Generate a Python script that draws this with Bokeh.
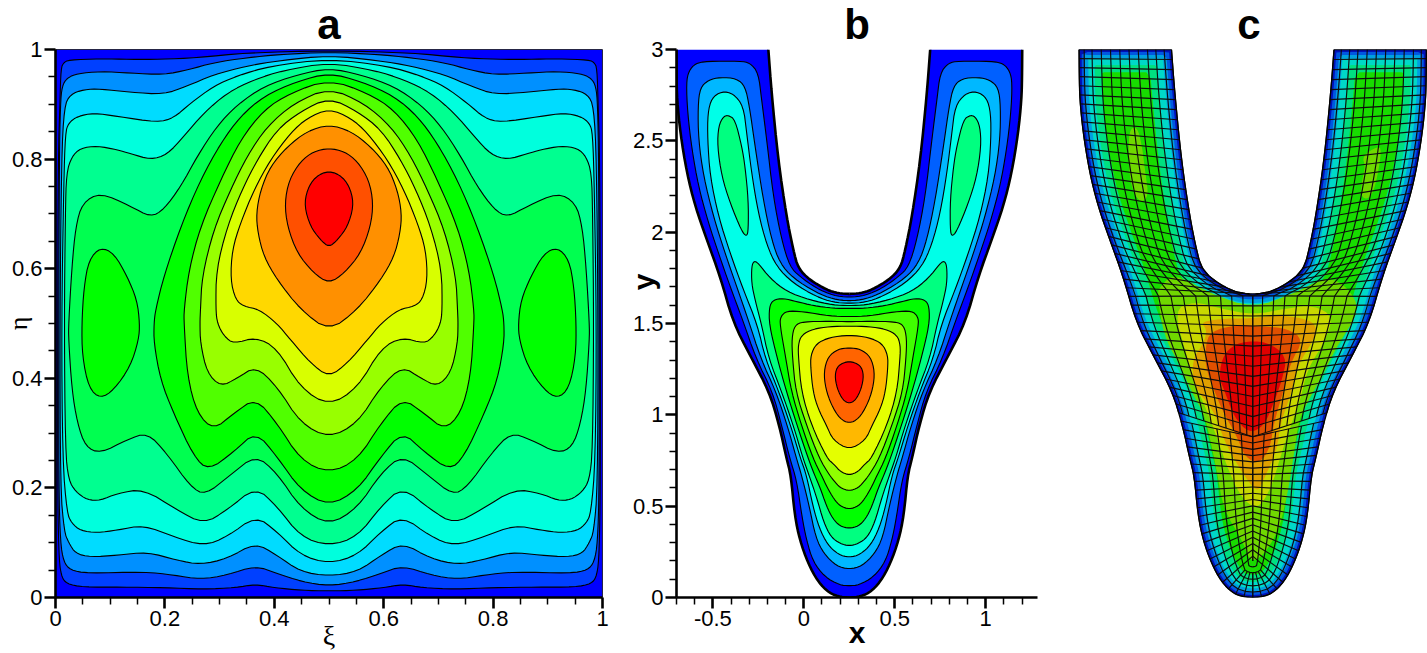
import numpy as np
from bokeh.plotting import figure
from bokeh.layouts import row
from bokeh.models import FixedTicker, NumeralTickFormatter, LinearAxis, Title
from bokeh.embed import file_html
from bokeh.resources import INLINE

# ---------- panel a: left halves (xi, eta) of the contour lines; the field is mirror-symmetric about xi = 0.5
a_colors = ["#0000ff", "#0040ff", "#0090ff", "#00dcff", "#00ffdd", "#00ff90", "#00ff50", "#00ff00",
            "#50ff00", "#98ff00", "#d8ff00", "#ffd800", "#ff9000", "#ff5000", "#ff0000"]
a_L1 = [(.5,.012),(.45,.013),(.40,.018),(.365,.024),(.33,.018),(.27,.015),(.2,.018),(.12,.019),(.05,.019),(.02,.025),(.01,.04),(.006,.08),(.004,.2),(.004,.5),(.005,.8),(.008,.9),(.01,.966),(.015,.976),(.024,.981),(.082,.983),(.137,.982),(.192,.982),(.259,.985),(.35,.994),(.5,.998)]
a_L2 = [(.5,.021),(.45,.029),(.405,.044),(.365,.058),(.314,.041),(.265,.033),(.216,.041),(.162,.047),(.058,.044),(.027,.05),(.015,.065),(.009,.1),(.006,.2),(.006,.5),(.007,.8),(.009,.9),(.012,.933),(.021,.948),(.04,.956),(.082,.960),(.137,.957),(.198,.954),(.243,.963),(.289,.976),(.35,.985),(.411,.991),(.5,.995)]
a_L3 = [(.5,.039),(.448,.047),(.405,.077),(.365,.1),(.314,.071),(.265,.06),(.222,.068),(.168,.083),(.113,.077),(.064,.074),(.037,.08),(.024,.1),(.016,.12),(.009,.2),(.008,.5),(.011,.8),(.016,.896),(.027,.918),(.052,.927),(.082,.928),(.137,.922),(.198,.918),(.24,.933),(.289,.954),(.35,.97),(.411,.98),(.5,.989)]
a_L4 = [(.5,.062),(.448,.077),(.405,.12),(.366,.149),(.314,.111),(.271,.094),(.216,.111),(.161,.132),(.113,.123),(.076,.118),(.046,.122),(.03,.135),(.021,.154),(.013,.25),(.011,.5),(.015,.75),(.018,.848),(.024,.866),(.04,.878),(.07,.884),(.113,.878),(.186,.867),(.216,.875),(.247,.902),(.289,.933),(.332,.952),(.393,.97),(.5,.983)]
a_L5 = [(.5,.094),(.448,.111),(.405,.166),(.366,.202),(.314,.16),(.271,.134),(.222,.16),(.161,.198),(.113,.19),(.082,.177),(.058,.178),(.037,.193),(.024,.214),(.018,.269),(.016,.5),(.018,.7),(.02,.775),(.03,.805),(.046,.82),(.076,.824),(.113,.817),(.137,.81),(.174,.799),(.204,.808),(.235,.842),(.271,.884),(.314,.921),(.363,.945),(.417,.962),(.5,.976)]
a_L6 = [(.5,.132),(.448,.163),(.405,.227),(.366,.26),(.32,.224),(.274,.187),(.247,.202),(.204,.262),(.168,.301),(.131,.288),(.082,.263),(.055,.275),(.04,.318),(.03,.379),(.024,.47),(.024,.5),(.03,.604),(.037,.677),(.049,.72),(.082,.739),(.137,.714),(.174,.694),(.198,.708),(.229,.75),(.259,.805),(.295,.86),(.332,.899),(.381,.933),(.442,.954),(.5,.966)]
a_L7 = [(.5,.167),(.448,.196),(.405,.257),(.366,.303),(.326,.266),(.28,.232),(.253,.257),(.216,.336),(.192,.397),(.18,.464),(.18,.5),(.183,.525),(.198,.586),(.229,.677),(.265,.762),(.302,.829),(.338,.878),(.381,.915),(.442,.942),(.5,.957)]
a_L8 = [(.5,.227),(.448,.251),(.405,.318),(.366,.364),(.326,.336),(.289,.306),(.259,.336),(.241,.403),(.235,.5),(.235,.525),(.244,.598),(.265,.677),(.302,.762),(.338,.835),(.381,.89),(.43,.921),(.5,.945)]
a_L9 = [(.5,.291),(.448,.318),(.405,.385),(.366,.422),(.332,.4),(.302,.385),(.277,.41),(.265,.464),(.264,.5),(.265,.525),(.268,.586),(.289,.671),(.32,.744),(.35,.805),(.387,.86),(.436,.902),(.5,.93)]
a_L10 = [(.5,.35),(.448,.382),(.405,.455),(.366,.475),(.326,.463),(.308,.477),(.296,.5),(.293,.525),(.294,.598),(.314,.677),(.341,.744),(.369,.799),(.405,.854),(.448,.887),(.5,.912)]
a_L11 = [(.5,.402),(.466,.428),(.43,.47),(.405,.5),(.372,.526),(.344,.531),(.329,.544),(.32,.58),(.323,.634),(.338,.683),(.363,.744),(.393,.799),(.43,.848),(.46,.875),(.5,.892)]
a_L12 = [(.5,.486),(.448,.525),(.405,.58),(.381,.622),(.37,.665),(.367,.701),(.375,.744),(.393,.787),(.424,.823),(.46,.851),(.5,.863)]
a_L13 = [(.5,.573),(.472,.592),(.442,.628),(.424,.677),(.419,.72),(.427,.762),(.448,.796),(.472,.814),(.5,.82)]
a_L14 = [(.5,.639),(.484,.653),(.466,.677),(.455,.714),(.46,.744),(.475,.768),(.5,.779)]
a_side = [(.082,.639),(.107,.628),(.131,.586),(.149,.543),(.154,.5),(.152,.47),(.137,.422),(.107,.379),(.082,.363),(.061,.382),(.049,.44),(.048,.5),(.052,.566),(.061,.616)]
a_levels = [a_L1, a_L2, a_L3, a_L4, a_L5, a_L6, a_L7, a_L8, a_L9, a_L10, a_L11, a_L12, a_L13, a_L14]
a_ticks = [0, 0.2, 0.4, 0.6, 0.8, 1]
a_minor = [0.05, 0.1, 0.15, 0.25, 0.3, 0.35, 0.45, 0.5, 0.55, 0.65, 0.7, 0.75, 0.85, 0.9, 0.95]

# ---------- panel b: left halves (x, y), mirror-symmetric about x = 0.25
b_outer = [(-.701,3),(-.70,2.85),(-.697,2.726),(-.679,2.543),(-.643,2.324),(-.597,2.141),(-.533,1.958),(-.46,1.757),(-.387,1.503),(-.296,1.327),(-.19,1.126),(-.135,.943),(-.095,.761),(-.071,.669),(-.05,.45),(-.022,.314),(.024,.186),(.078,.086),(.142,.022),(.206,.002),(.25,0)]
b_inner = [(-.195,3),(-.177,2.762),(-.141,2.397),(-.095,2.086),(-.058,1.903),(-.031,1.802),(.033,1.738),(.126,1.684),(.19,1.665),(.25,1.662)]
b_colors = ["#0000ff", "#0060ff", "#00b8ff", "#00ffe8", "#00ff80", "#00ff00", "#40ff00", "#90ff00", "#e4ff00", "#ffb800", "#ff6400", "#ff0000"]
b_L1 = [(.25,.064),(.197,.068),(.115,.113),(.051,.196),(.015,.314),(-.01,.442),(-.04,.644),(-.077,.761),(-.122,.943),(-.172,1.126),(-.263,1.309),(-.336,1.519),(-.405,1.702),(-.469,1.885),(-.524,2.049),(-.579,2.25),(-.615,2.452),(-.639,2.653),(-.646,2.817),(-.633,2.881),(-.597,2.923),(-.533,2.936),(-.35,2.936),(-.296,2.927),(-.25,2.872),(-.232,2.726),(-.204,2.506),(-.168,2.196),(-.122,1.958),(-.077,1.812),(-.022,1.757),(.069,1.693),(.161,1.653),(.25,1.642)]
b_L2 = [(.25,.154),(.18,.172),(.11,.24),(.065,.33),(.03,.5),(-.012,.669),(-.04,.761),(-.091,.943),(-.153,1.126),(-.237,1.309),(-.305,1.519),(-.369,1.702),(-.433,1.885),(-.497,2.086),(-.551,2.305),(-.579,2.506),(-.582,2.689),(-.57,2.79),(-.524,2.833),(-.46,2.848),(-.369,2.841),(-.323,2.799),(-.299,2.689),(-.268,2.47),(-.223,2.177),(-.177,1.958),(-.131,1.83),(-.058,1.748),(.069,1.669),(.161,1.633),(.25,1.623)]
b_L3 = [(.25,.219),(.19,.235),(.13,.29),(.085,.38),(.05,.5),(.015,.669),(-.018,.761),(-.073,.943),(-.137,1.126),(-.212,1.309),(-.255,1.492),(-.332,1.684),(-.405,1.885),(-.469,2.086),(-.515,2.305),(-.529,2.506),(-.528,2.653),(-.506,2.735),(-.451,2.771),(-.387,2.759),(-.332,2.689),(-.314,2.543),(-.287,2.324),(-.25,2.104),(-.204,1.931),(-.15,1.812),(-.058,1.72),(.069,1.647),(.161,1.616),(.25,1.61)]
b_L4 = [(.25,.282),(.2,.295),(.15,.33),(.11,.41),(.07,.55),(.029,.669),(-.004,.761),(-.058,.943),(-.122,1.126),(-.193,1.309),(-.232,1.492),(-.268,1.629),(-.287,1.72),(-.287,1.812),(-.274,1.843),(-.25,1.83),(-.186,1.748),(-.095,1.675),(.033,1.629),(.161,1.601),(.25,1.598)]
b_L5 = [(.25,.378),(.2,.39),(.16,.43),(.125,.5),(.09,.6),(.06,.669),(.024,.761),(-.037,.943),(-.095,1.126),(-.146,1.309),(-.19,1.492),(-.19,1.592),(-.168,1.629),(-.113,1.638),(-.04,1.62),(.051,1.598),(.161,1.583),(.25,1.583)]
b_L6 = [(.25,.483),(.2,.5),(.165,.54),(.13,.6),(.097,.669),(.051,.761),(-.013,.943),(-.068,1.126),(-.099,1.309),(-.131,1.492),(-.128,1.537),(-.095,1.569),(-.004,1.565),(.142,1.541),(.25,1.537)]
b_L7 = [(.25,.583),(.2,.6),(.165,.64),(.142,.669),(.085,.761),(.015,.943),(-.044,1.126),(-.062,1.309),(-.066,1.42),(-.05,1.49),(-.004,1.51),(.142,1.512),(.25,1.51)]
b_L8 = [(.25,.669),(.2,.69),(.165,.73),(.128,.761),(.042,.943),(-.013,1.126),(-.029,1.309),(-.031,1.382),(-.013,1.437),(.051,1.47),(.142,1.483),(.25,1.486)]
b_L9 = [(.25,.808),(.161,.861),(.124,.943),(.078,1.035),(.051,1.126),(.038,1.254),(.038,1.327),(.069,1.391),(.142,1.424),(.25,1.437)]
b_L10 = [(.25,.952),(.197,.98),(.152,1.053),(.12,1.144),(.11,1.236),(.133,1.318),(.188,1.36),(.25,1.367)]
b_L11 = [(.25,1.062),(.215,1.08),(.183,1.144),(.17,1.218),(.188,1.272),(.25,1.296)]
b_arm = [(-.414,2.64),(-.378,2.616),(-.341,2.47),(-.323,2.36),(-.305,2.177),(-.305,2.013),(-.314,1.976),(-.341,2.004),(-.405,2.159),(-.451,2.305),(-.475,2.47),(-.469,2.58),(-.442,2.634)]
b_levels = [b_L1, b_L2, b_L3, b_L4, b_L5, b_L6, b_L7, b_L8, b_L9, b_L10, b_L11]
b_xticks = [-0.5, 0, 0.5, 1]
b_xminor = [-0.7, -0.6, -0.4, -0.3, -0.2, -0.1, 0.1, 0.2, 0.3, 0.4, 0.6, 0.7, 0.8, 0.9, 1.1, 1.2]
b_yticks = [0, 0.5, 1, 1.5, 2, 2.5, 3]
b_yminor = [0.1, 0.2, 0.3, 0.4, 0.6, 0.7, 0.8, 0.9, 1.1, 1.2, 1.3, 1.4, 1.6, 1.7, 1.8, 1.9, 2.1, 2.2, 2.3, 2.4, 2.6, 2.7, 2.8, 2.9]

# ---------- panel c: colour bands of the field on the same shape
c_wall_colors = ["#0010b8", "#0058e0", "#00a0e0", "#00d8c8", "#00e080", "#18dc00"]
c_wall_depths = [0.0, 0.014, 0.03, 0.05, 0.085, 0.125]
c_lime = [(.25,.168),(.192,.314),(.091,.479),(.055,.68),(.018,.863),(-.018,1.009),(-.082,1.119),(-.146,1.265),(-.237,1.43),(-.274,1.665),(-.256,1.702),(-.183,1.775),(.018,1.665),(.25,1.583),(.475,1.665),(.657,1.757),(.767,1.702),(.84,1.574),(.721,1.393),(.639,1.229),(.557,1.082),(.502,.973),(.474,.771),(.438,.552),(.383,.333)]
c_yellow = [(.274,.479),(.182,.552),(.109,.717),(.046,.899),(-.018,1.064),(-.082,1.192),(-.11,1.32),(-.183,1.574),(-.073,1.62),(.073,1.583),(.25,1.547),(.438,1.583),(.584,1.601),(.693,1.537),(.639,1.393),(.548,1.247),(.511,1.082),(.456,.936),(.402,.771),(.347,.589)]
c_amber = [(.274,.57),(.182,.698),(.091,.863),(.036,1.027),(-.073,1.155),(-.082,1.302),(-.018,1.393),(0,1.466),(-.037,1.51),(.109,1.528),(.237,1.528),(.402,1.547),(.566,1.519),(.602,1.473),(.584,1.411),(.493,1.265),(.456,1.101),(.402,.954),(.383,.808),(.31,.644)]
c_orange = [(.21,.762),(.164,.881),(.091,1.009),(.036,1.137),(-.009,1.265),(-.009,1.375),(.018,1.457),(.164,1.494),(.292,1.484),(.438,1.475),(.529,1.411),(.456,1.283),(.42,1.137),(.365,.954),(.347,.826),(.292,.735)]
c_red = [(.228,.899),(.146,.991),(.1,1.119),(.063,1.21),(.091,1.338),(.182,1.402),(.328,1.402),(.438,1.32),(.411,1.192),(.365,1.064),(.31,.936)]
c_arm_l = [(-.429,2.561),(-.383,2.58),(-.356,2.47),(-.338,2.323),(-.32,2.196),(-.365,2.159),(-.411,2.232),(-.429,2.36)]
c_arm_r = [(.849,2.415),(.931,2.47),(.958,2.452),(.922,2.25),(.885,2.177),(.84,2.196),(.849,2.287),(.867,2.36)]
c_patches = [(c_lime, "#70d800"), (c_arm_l, "#70d800"), (c_arm_r, "#70d800"), (c_yellow, "#c8d800"),
             (c_amber, "#e0a000"), (c_orange, "#e05000"), (c_red, "#e00000")]
mesh_rows_upper = 42
mesh_rows_stem = 23
mesh_across_upper = [0, .055, .14, .24, .34, .44, .54, .64, .74, .83, .92, 1]
mesh_across_stem = [0, .15, .32, .5, .68, .84, 1]
mesh_split_outer_y = 1.0
mesh_split_center_y = 0.88
mesh_stem_end_y = 0.2
mesh_fan_start = 0.86
mesh_fan_reach = 0.68
mesh_top_steps = 12


def chaikin(pts, closed=True, n=2):
    """Round the corners of a digitised polyline when it is drawn."""
    p = np.asarray(pts, float)
    for _ in range(n):
        if closed:
            q = np.roll(p, -1, axis=0)
            p = np.stack([.75 * p + .25 * q, .25 * p + .75 * q], axis=1).reshape(-1, 2)
        else:
            a, b = p[:-1], p[1:]
            mid = np.stack([.75 * a + .25 * b, .25 * a + .75 * b], axis=1).reshape(-1, 2)
            p = np.vstack([p[:1], mid, p[-1:]])
    return p


def mirrored(pts, c):
    p = np.asarray(pts, float)
    q = p[::-1].copy()
    q[:, 0] = 2 * c - q[:, 0]
    return np.vstack([p, q[1:-1]]) if abs(p[0, 0] - c) < 1e-9 else np.vstack([p, q])


def closed_level(pts, c):
    return chaikin(mirrored(pts, c))


def draw_fill(p, shapes, colors, line=True):
    xs = [list(s[:, 0]) for s in shapes]
    ys = [list(s[:, 1]) for s in shapes]
    p.patches(xs, ys, fill_color=colors, line_color="black" if line else None,
              line_width=1.1, line_join="round")


def style_axes(p, xt, xm, yt, ym):
    p.grid.visible = False
    p.xaxis.ticker = FixedTicker(ticks=xt, minor_ticks=xm)
    p.yaxis.ticker = FixedTicker(ticks=yt, minor_ticks=ym)
    for ax in (p.xaxis[0], p.yaxis[0]):
        ax.formatter = NumeralTickFormatter(format="0.[0]")
        ax.axis_line_width = 2.6
        ax.axis_line_color = "black"
        ax.major_tick_line_width = 2.6
        ax.major_tick_line_color = "black"
        ax.minor_tick_line_width = 1.5
        ax.minor_tick_line_color = "black"
        ax.major_tick_out = 11
        ax.major_tick_in = 0
        ax.minor_tick_out = 7
        ax.minor_tick_in = 0
        ax.major_label_standoff = 2
        ax.major_label_text_font = "Liberation Sans"
        ax.major_label_text_font_size = "22px"
        ax.major_label_text_color = "black"
    p.yaxis[0].major_label_orientation = "horizontal"


def axis_text(ax, text, size, standoff, font="Liberation Sans", style="bold"):
    ax.axis_label = text
    ax.axis_label_text_font = font
    ax.axis_label_text_font_size = size
    ax.axis_label_text_font_style = style
    ax.axis_label_text_color = "black"
    ax.axis_label_standoff = standoff


def panel_title(p, text, offset):
    p.title = Title(text=text, align="center", offset=offset, standoff=4, text_font="Liberation Sans",
                    text_font_size="42px", text_font_style="bold", text_color="black")


# ---------- panel a
pa = figure(width=632, height=658, x_range=(0, 1), y_range=(0, 1), output_backend="svg", toolbar_location=None,
            min_border_left=65, min_border_right=20, min_border_top=54, min_border_bottom=56)
pa.outline_line_color = "#666666"
pa.outline_line_width = 1
shapes = [np.array([(0, 0), (1, 0), (1, 1), (0, 1)], float)]
colors = [a_colors[0]]
for i, lev in enumerate(a_levels):
    shapes.append(closed_level(lev, .5))
    colors.append(a_colors[i + 1])
draw_fill(pa, shapes[:7], colors[:7])
side = chaikin(a_side)
side_r = side.copy()
side_r[:, 0] = 1 - side_r[:, 0]
draw_fill(pa, [side, side_r], [a_colors[7], a_colors[7]])
draw_fill(pa, shapes[7:], colors[7:])
style_axes(pa, a_ticks, a_minor, a_ticks, a_minor)
panel_title(pa, "a", -1)
axis_text(pa.xaxis[0], "ξ", "28px", -9, font="Liberation Serif", style="normal")
axis_text(pa.yaxis[0], "η", "26px", -24, font="Liberation Serif", style="normal")

# ---------- panel b
pb = figure(width=433, height=658, x_range=(-.7, 1.285), y_range=(0, 3), output_backend="svg", toolbar_location=None,
            min_border_left=54, min_border_right=18, min_border_top=54, min_border_bottom=56)
pb.outline_line_color = None
outer_s = chaikin(b_outer, closed=False)
inner_s = chaikin(b_inner, closed=False)
half = np.vstack([outer_s[::-1], inner_s])
domain = mirrored(half, .25)
pb.patch(domain[:, 0], domain[:, 1], fill_color=b_colors[0], line_color=None)
shapes = [closed_level(lev, .25) for lev in b_levels]
draw_fill(pb, shapes[:3], b_colors[1:4])
arm = chaikin(b_arm)
arm_r = arm.copy()
arm_r[:, 0] = .5 - arm_r[:, 0]
draw_fill(pb, [arm, arm_r], [b_colors[4], b_colors[4]])
draw_fill(pb, shapes[3:], b_colors[4:])
for c_sign in (1, -1):
    for edge in (outer_s, inner_s):
        ex = edge[:, 0] if c_sign == 1 else .5 - edge[:, 0]
        pb.line(ex, edge[:, 1], line_color="black", line_width=2.6)
style_axes(pb, b_xticks, b_xminor, b_yticks, b_yminor)
panel_title(pb, "b", 5)
axis_text(pb.xaxis[0], "x", "30px", -13)
y_label_axis = LinearAxis(ticker=FixedTicker(ticks=[]), axis_line_color=None,
                          major_tick_line_color=None, minor_tick_line_color=None, major_label_text_font_size="0px")
axis_text(y_label_axis, "\u00a0" * 10 + "y", "30px", -30)
pb.add_layout(y_label_axis, "left")


# ---------- panel c
def along(poly, t):
    p = np.asarray(poly, float)
    seg = np.hypot(*np.diff(p, axis=0).T)
    s = np.concatenate([[0], np.cumsum(seg)])
    u = np.asarray(t) * s[-1]
    return np.stack([np.interp(u, s, p[:, 0]), np.interp(u, s, p[:, 1])], axis=1)


def inward_offset(poly, d):
    p = np.asarray(poly, float)
    if d == 0:
        return p
    area = .5 * np.sum(p[:, 0] * np.roll(p[:, 1], -1) - np.roll(p[:, 0], -1) * p[:, 1])
    tang = np.roll(p, -1, axis=0) - np.roll(p, 1, axis=0)
    tang /= np.maximum(np.hypot(tang[:, 0], tang[:, 1]), 1e-9)[:, None]
    normal = np.stack([-tang[:, 1], tang[:, 0]], axis=1) * (1 if area > 0 else -1)
    q = p + d * normal
    rim = along(np.vstack([p, p[:1]]), np.linspace(0, 1, 1600))
    near = np.min(np.hypot(q[:, None, 0] - rim[None, :, 0], q[:, None, 1] - rim[None, :, 1]), axis=1)
    return q[near >= .9 * d]


def block_lines(a, b, across, reach=None):
    xs, ys = [], []
    for i in range(len(a)):
        r = 1.0 if reach is None else reach[i]
        end = (1 - r) * a[i] + r * b[i]
        xs.append([a[i, 0], end[0]])
        ys.append([a[i, 1], end[1]])
    for s in across:
        q = (1 - s) * a + s * b
        xs.append(list(q[:, 0]))
        ys.append(list(q[:, 1]))
    return xs, ys


pc = figure(width=372, height=658, x_range=(-.748, 1.207), y_range=(0, 3), output_backend="svg", toolbar_location=None,
            min_border_left=15, min_border_right=0, min_border_top=54, min_border_bottom=56)
pc.outline_line_color = None
pc.axis.visible = False
pc.grid.visible = False
top_edge = along(np.array([outer_s[0], inner_s[0]]), np.linspace(0, 1, mesh_top_steps))
half_dense = np.vstack([outer_s[::-1][:-1], top_edge, inner_s[1:]])
domain_dense = mirrored(half_dense, .25)
draw_fill(pc, [inward_offset(domain_dense, d) for d in c_wall_depths], c_wall_colors, line=False)
draw_fill(pc, [chaikin(s) for s, _ in c_patches], [col for _, col in c_patches], line=False)

upper_outer = outer_s[outer_s[:, 1] >= mesh_split_outer_y]
stem_outer = outer_s[outer_s[:, 1] <= mesh_split_outer_y]
split_pt = np.array([[.25, mesh_split_center_y]])
upper_b = np.vstack([inner_s, split_pt])
stem_b = np.vstack([split_pt, [[.25, mesh_stem_end_y]]])
t_u = np.linspace(0, 1, mesh_rows_upper + 1)
t_s = np.linspace(0, 1, mesh_rows_stem + 1)
xs1, ys1 = block_lines(along(upper_outer, t_u), along(upper_b, t_u), mesh_across_upper)
fan_reach = np.where(t_s > mesh_fan_start, mesh_fan_reach, 1.0)
xs2, ys2 = block_lines(along(stem_outer, t_s), along(stem_b, np.minimum(t_s / mesh_fan_start, 1)),
                       mesh_across_stem, reach=fan_reach)
mx = xs1 + xs2
my = ys1 + ys2
mx = mx + [[.5 - v for v in line] for line in mx]
my = my + [list(line) for line in my]
pc.multi_line(mx, my, line_color="#0c0c0c", line_width=1.15)
closed_dom = np.vstack([domain, domain[:1]])
pc.line(closed_dom[:, 0], closed_dom[:, 1], line_color="black", line_width=1.3)
panel_title(pc, "c", 9.5)

layout = row(pa, pb, pc, spacing=0, margin=(-5, 0, 0, -10))
open("out.html", "w").write(file_html(layout, INLINE))
